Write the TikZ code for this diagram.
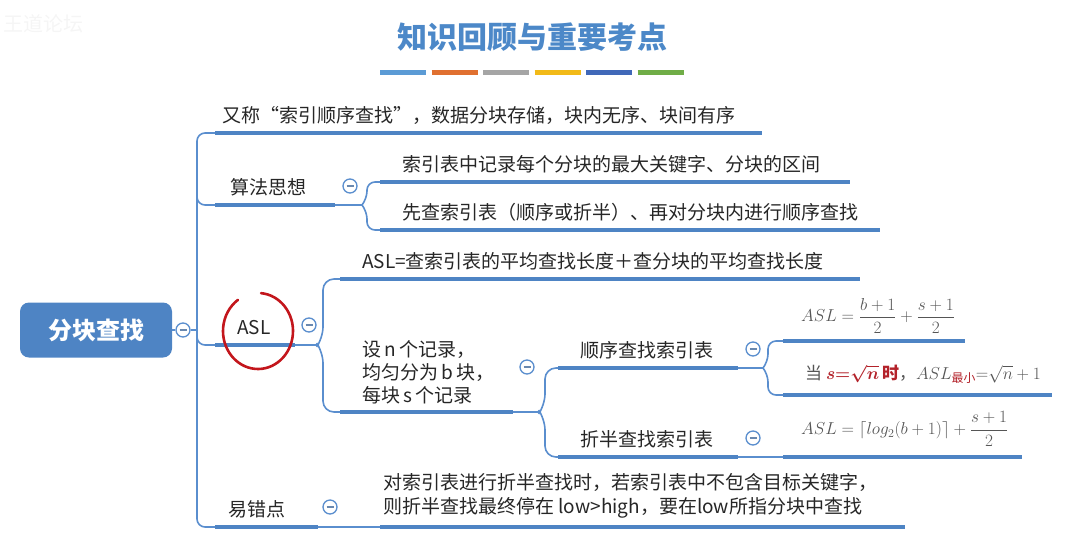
\documentclass[tikz,border=0pt]{standalone}
\usepackage{amsmath}
\usepackage{fontspec}
\setmainfont{Noto Sans CJK SC}
\usetikzlibrary{positioning}

\definecolor{mapblue}{HTML}{4E84C4}
\definecolor{linkblue}{HTML}{5A8ECE}
\definecolor{titleblue}{HTML}{4C88C8}
\definecolor{ink}{HTML}{262626}
\definecolor{mathgray}{HTML}{555555}
\definecolor{markred}{HTML}{C3161C}
\definecolor{fmred}{HTML}{B3222A}
\definecolor{barA}{HTML}{5B9BD5}
\definecolor{barB}{HTML}{E07030}
\definecolor{barC}{HTML}{A5A5A5}
\definecolor{barD}{HTML}{F2BA18}
\definecolor{barE}{HTML}{4068B8}
\definecolor{barF}{HTML}{70AD47}

\tikzset{
  topic/.style={anchor=base west,inner sep=0pt,text=ink,font=\fontsize{19}{23}\selectfont},
  uline/.style={draw=mapblue,line width=4.5pt},
  link/.style={draw=linkblue,line width=1.6pt,rounded corners=8pt},
  fold/.style={circle,draw=linkblue,line width=1.3pt,fill=white,minimum size=14pt,inner sep=0pt,
    path picture={\draw[linkblue!60!gray,line width=1.4pt]
      ([xshift=-3.5pt]path picture bounding box.center) -- ([xshift=3.5pt]path picture bounding box.center);}},
  fml/.style={anchor=west,inner sep=0pt,text=mathgray,font=\fontsize{17}{20}\selectfont}
}

\begin{document}
\begin{tikzpicture}[x=1pt,y=-1pt]
\useasboundingbox (0,0) rectangle (1075,555);

% heading
\node[anchor=west,text=black!4,font=\fontsize{20}{24}\selectfont] (mark) at (0,24) {王道论坛};
\node[text=titleblue,font=\fontsize{30}{36}\selectfont\bfseries] (title) at (532,37) {知识回顾与重要考点};
\foreach \c [count=\i from 0] in {barA,barB,barC,barD,barE,barF}
  \draw[draw=\c,line width=5pt] ({380+\i*51.5},72) -- ({426+\i*51.5},72);

% root
\node[rounded corners=9pt,fill=mapblue,minimum width=152pt,minimum height=55pt,
  text=white,font=\fontsize{24}{28}\selectfont\bfseries] (root) at (96,330) {分块查找};
\node[fold] (f0) at (183,330) {};
\coordinate (trunk) at (197,330);
\draw[link] (root) -- (f0);
\draw[link] (f0) -- (trunk);

% level 1 lines
\coordinate (infoL) at (215,133); \coordinate (infoR) at (762,133);
\coordinate (algoL) at (215,205); \coordinate (algoR) at (335,205);
\coordinate (aslL) at (215,345);  \coordinate (aslR) at (295,345);
\coordinate (tipL) at (215,527);  \coordinate (tipR) at (318,527);
\draw[link] (infoL) -| (197,527) -- (tipL);
\draw[link] (197,190) |- (algoL);
\draw[link] (197,330) |- (aslL);
\draw[uline] (infoL) -- (infoR);
\draw[uline] (algoL) -- (algoR);
\draw[uline] (aslL) -- (aslR);
\draw[uline] (tipL) -- (tipR);
\node[topic] (info) at (222,122) {又称“索引顺序查找”，数据分块存储，块内无序、块间有序};
\node[topic] (algo) at (230,194) {算法思想};
\node[topic] (asl) at (237,334) {ASL};
\node[topic] (tip) at (228,516) {易错点};

% 算法思想
\node[fold] (f1) at (350,186) {};
\coordinate (algoF) at (362,205);
\coordinate (idxL) at (380,182); \coordinate (idxR) at (850,182);
\coordinate (stepL) at (380,230); \coordinate (stepR) at (880,230);
\draw[link] (algoR) -- (algoF);
\draw[link] (algoF) -- ++(5,-6) |- (idxL);
\draw[link] (algoF) -- ++(5,6) |- (stepL);
\draw[uline] (idxL) -- (idxR);
\draw[uline] (stepL) -- (stepR);
\node[topic] (idx) at (402,171) {索引表中记录每个分块的最大关键字、分块的区间};
\node[topic] (stepn) at (402,219) {先查索引表（顺序或折半）、再对分块内进行顺序查找};

% ASL
\node[fold] (f2) at (309,325) {};
\coordinate (aslF) at (318,345);
\coordinate (sumL) at (340,279); \coordinate (sumR) at (860,279);
\coordinate (recL) at (340,412); \coordinate (recR) at (513,412);
\draw[link] (aslR) -- (aslF);
\draw[link,rounded corners=11pt] (aslF) -- ++(5,-7) |- (sumL);
\draw[link,rounded corners=11pt] (aslF) -- ++(5,7) |- (recL);
\draw[uline] (sumL) -- (sumR);
\draw[uline] (recL) -- (recR);
\node[topic] (sum) at (362,268) {ASL=查索引表的平均查找长度＋查分块的平均查找长度};
\node[topic,anchor=south west,align=left] (rec) at (362,404)
  {设\,n\,个记录，\\均匀分为\,b\,块，\\每块\,s\,个记录};

% 设n个记录
\node[fold] (f3) at (527,367) {};
\coordinate (recF) at (540,412);
\coordinate (seqL) at (558,368); \coordinate (seqR) at (738,368);
\coordinate (binL) at (558,457); \coordinate (binR) at (738,457);
\draw[link] (recR) -- (recF);
\draw[link,rounded corners=11pt] (recF) -- ++(5,-7) |- (seqL);
\draw[link,rounded corners=11pt] (recF) -- ++(5,7) |- (binL);
\draw[uline] (seqL) -- (seqR);
\draw[uline] (binL) -- (binR);
\node[topic] (seq) at (580,357) {顺序查找索引表};
\node[topic] (bin) at (580,446) {折半查找索引表};

% 顺序查找索引表
\node[fold] (f4) at (753,349) {};
\coordinate (seqF) at (763,368);
\coordinate (avgAL) at (783,341); \coordinate (avgAR) at (965,341);
\coordinate (avgBL) at (783,395); \coordinate (avgBR) at (1052,395);
\draw[link] (seqR) -- (seqF);
\draw[link] (seqF) -- ++(5,-6) |- (avgAL);
\draw[link] (seqF) -- ++(5,6) |- (avgBL);
\draw[uline] (avgAL) -- (avgAR);
\draw[uline] (avgBL) -- (avgBR);
\node[fml] (avgA) at (801,316) {$\displaystyle ASL=\frac{b+1}{2}+\frac{s+1}{2}$};
\node[fml,anchor=base west] (avgB) at (805,379)
  {当 \textcolor{fmred}{$\boldsymbol{s{=}\sqrt{n}}$\,\textbf{时}}，$ASL_{\text{\textcolor{fmred}{最小}}}{=}\sqrt{n}+1$};

% 折半查找索引表
\node[fold] (f5) at (753,438) {};
\coordinate (avgCL) at (783,457); \coordinate (avgCR) at (1022,457);
\draw[link] (binR) -- (avgCL);
\draw[uline] (avgCL) -- (avgCR);
\node[fml] (avgC) at (801,429) {$\displaystyle ASL=\lceil log_2(b+1)\rceil+\frac{s+1}{2}$};

% 易错点
\node[fold] (f6) at (330,507) {};
\coordinate (noteL) at (380,527); \coordinate (noteR) at (905,527);
\draw[link] (tipR) -- (noteL);
\draw[uline] (noteL) -- (noteR);
\node[topic,anchor=south west,align=left,font=\fontsize{19}{24}\selectfont] (note) at (383,518)
  {对索引表进行折半查找时，若索引表中不包含目标关键字，\\则折半查找最终停在 low>high，要在low所指分块中查找};

% hand-drawn mark
\coordinate (aslMark) at (258,331);
\draw[markred,line width=2.6pt,line cap=round]
  ([shift={(-85:35 and 38)}]aslMark) arc[start angle=-85,end angle=235,x radius=35,y radius=38];
\end{tikzpicture}
\end{document}
